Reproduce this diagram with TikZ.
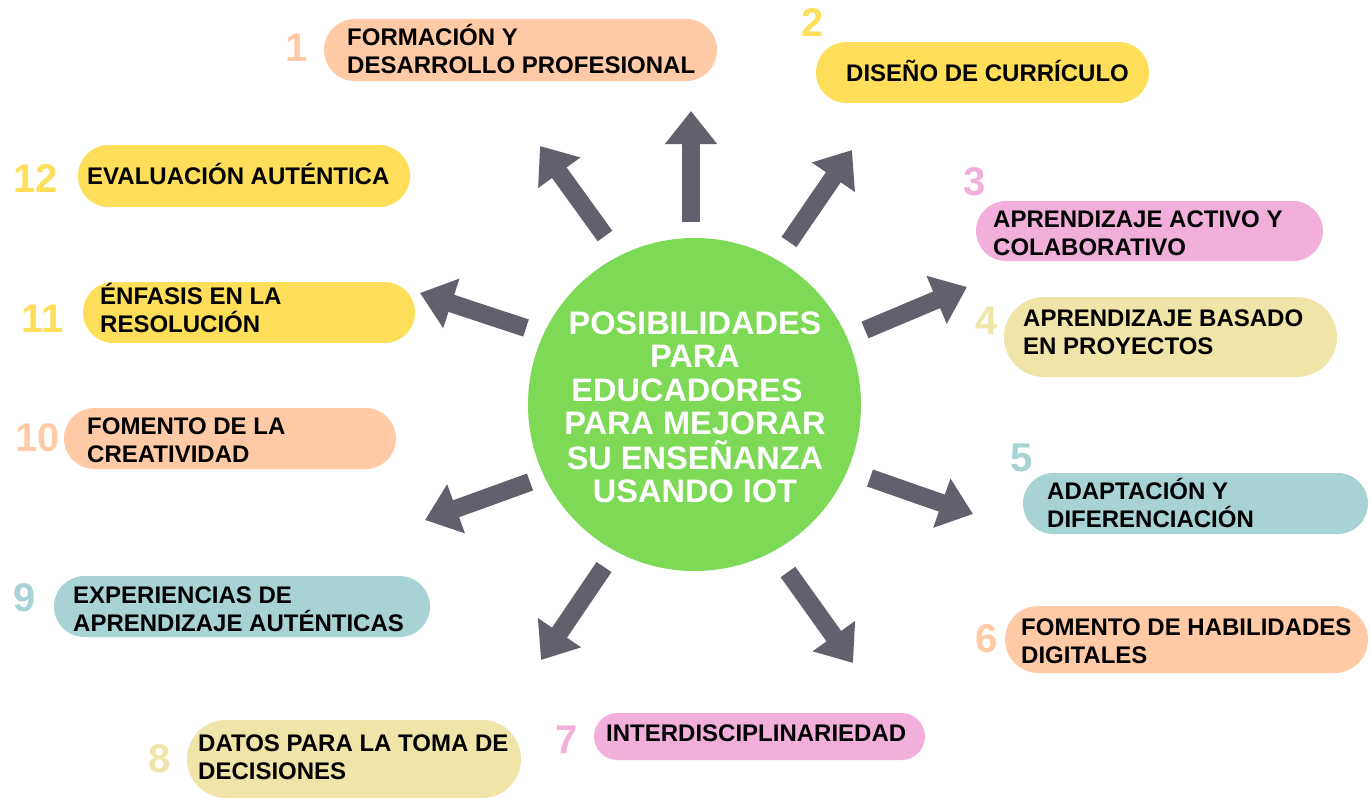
\documentclass[tikz,border=0pt]{standalone}
\usepackage{fontspec}
\setmainfont{Liberation Sans}
\usetikzlibrary{arrows.meta}
\definecolor{cpeach}{HTML}{FFCAA5}
\definecolor{cyellow}{HTML}{FFDE59}
\definecolor{cpink}{HTML}{F2AFDA}
\definecolor{ckhaki}{HTML}{EFE5A8}
\definecolor{cteal}{HTML}{A7D3D4}
\definecolor{cgreen}{HTML}{7ED957}
\definecolor{cgray}{HTML}{61606D}
\newcommand\ls{\rule[-5.4pt]{0pt}{28pt}}
\newcommand\lc{\rule[-5pt]{0pt}{33.2pt}}
\tikzset{
  pill/.style={fill=#1, draw=none, inner sep=0pt},
  lbl/.style={anchor=west, align=left, inner sep=0pt, text=black,
    font=\fontsize{24}{28}\selectfont\bfseries},
  num/.style={anchor=base, inner sep=0pt, text=#1,
    font=\fontsize{40}{40}\selectfont\bfseries},
  arr/.style={draw=cgray, line width=18pt, -{Triangle[length=33pt,width=50pt]}},
}
\begin{document}
\begin{tikzpicture}[x=1pt,y=-1pt]
\useasboundingbox (0,0) rectangle (1370,798);
\fill[white] (0,0) rectangle (1370,798);

% centre
\node[circle, fill=cgreen, minimum size=333pt, inner sep=0pt] (c) at (694.5,404.5) {};
\node[align=center, inner sep=0pt, text=white, font=\fontsize{32.5}{33.2}\selectfont\bfseries] (ct) at (695,407)
  {\lc POSIBILIDADES\\\lc PARA\\\lc EDUCADORES\kern 16pt\\\lc PARA MEJORAR\\\lc SU ENSEÑANZA\\\lc USANDO IOT};

% arrows
\coordinate (t1) at (691,222);  \coordinate (h1) at (691,111);
\coordinate (t2) at (789,242);  \coordinate (h2) at (852,150);
\coordinate (t3) at (865,330);  \coordinate (h3) at (967,287);
\coordinate (t4) at (870,478);  \coordinate (h4) at (973,514);
\coordinate (t5) at (788,572);  \coordinate (h5) at (853,663);
\coordinate (t6) at (604,567);  \coordinate (h6) at (541,660);
\coordinate (t7) at (530,482);  \coordinate (h7) at (425,520);
\coordinate (t8) at (526,328);  \coordinate (h8) at (420,293);
\coordinate (t9) at (605,236);  \coordinate (h9) at (540,146);
\foreach \i in {1,...,9} \draw[arr] (t\i) -- (h\i);

% boxes
\node[pill=cpeach,  rounded corners=31pt,   minimum width=393pt, minimum height=62pt] (b1)  at (520.5,50) {};
\node[pill=cyellow, rounded corners=30.5pt, minimum width=333pt, minimum height=61pt] (b2)  at (982.5,72.5) {};
\node[pill=cpink,   rounded corners=30pt,   minimum width=347pt, minimum height=60pt] (b3)  at (1149.5,231) {};
\node[pill=ckhaki,  rounded corners=40pt,   minimum width=333pt, minimum height=80pt] (b4)  at (1170.5,337) {};
\node[pill=cteal,   rounded corners=30.5pt, minimum width=345pt, minimum height=61pt] (b5)  at (1195.5,503.5) {};
\node[pill=cpeach,  rounded corners=33.5pt, minimum width=363pt, minimum height=67pt] (b6)  at (1186.5,639.5) {};
\node[pill=cpink,   rounded corners=23.5pt, minimum width=331pt, minimum height=47pt] (b7)  at (759.5,736.5) {};
\node[pill=ckhaki,  rounded corners=39pt,   minimum width=334pt, minimum height=78pt] (b8)  at (354,759) {};
\node[pill=cteal,   rounded corners=30.5pt, minimum width=376pt, minimum height=61pt] (b9)  at (242,606.5) {};
\node[pill=cpeach,  rounded corners=30.5pt, minimum width=332pt, minimum height=61pt] (b10) at (230,438.5) {};
\node[pill=cyellow, rounded corners=30.5pt, minimum width=332pt, minimum height=61pt] (b11) at (249,312.5) {};
\node[pill=cyellow, rounded corners=31pt,   minimum width=332pt, minimum height=62pt] (b12) at (244,176) {};

% labels
\node[lbl] (l1)  at (347,51)   {\ls FORMACIÓN Y\\\ls DESARROLLO PROFESIONAL};
\node[lbl] (l2)  at (846,73)   {\ls DISEÑO DE CURRÍCULO};
\node[lbl] (l3)  at (993,233)  {\ls APRENDIZAJE ACTIVO Y\\\ls COLABORATIVO};
\node[lbl] (l4)  at (1023,332) {\ls APRENDIZAJE BASADO\\\ls EN PROYECTOS};
\node[lbl] (l5)  at (1047,505) {\ls ADAPTACIÓN Y\\\ls DIFERENCIACIÓN};
\node[lbl] (l6)  at (1021,641) {\ls FOMENTO DE HABILIDADES\\\ls DIGITALES};
\node[lbl] (l7)  at (606,733)  {\ls INTERDISCIPLINARIEDAD};
\node[lbl] (l8)  at (198,757)  {\ls DATOS PARA LA TOMA DE\\\ls DECISIONES};
\node[lbl] (l9)  at (73,609)   {\ls EXPERIENCIAS DE\\\ls APRENDIZAJE AUTÉNTICAS};
\node[lbl] (l10) at (87,440)   {\ls FOMENTO DE LA\\\ls CREATIVIDAD};
\node[lbl] (l11) at (100,310)  {\ls ÉNFASIS EN LA\\\ls RESOLUCIÓN};
\node[lbl] (l12) at (87,176)   {\ls EVALUACIÓN AUTÉNTICA};

% numbers
\node[num=cpeach]  (n1)  at (297,61.8)   {1};
\node[num=cyellow] (n2)  at (813,36.3)   {2};
\node[num=cpink]   (n3)  at (975,195.3)  {3};
\node[num=ckhaki]  (n4)  at (987,334.3)  {4};
\node[num=cteal]   (n5)  at (1022,471.3) {5};
\node[num=cpeach]  (n6)  at (987,652.3)  {6};
\node[num=cpink]   (n7)  at (567,753.3)  {7};
\node[num=ckhaki]  (n8)  at (160,772.3)  {8};
\node[num=cteal]   (n9)  at (25,611.3)   {9};
\node[num=cpeach]  (n10) at (38,451.3)   {10};
\node[num=cyellow] (n11) at (43,332.3)   {11};
\node[num=cyellow] (n12) at (36,192.3)   {12};
\end{tikzpicture}
\end{document}
